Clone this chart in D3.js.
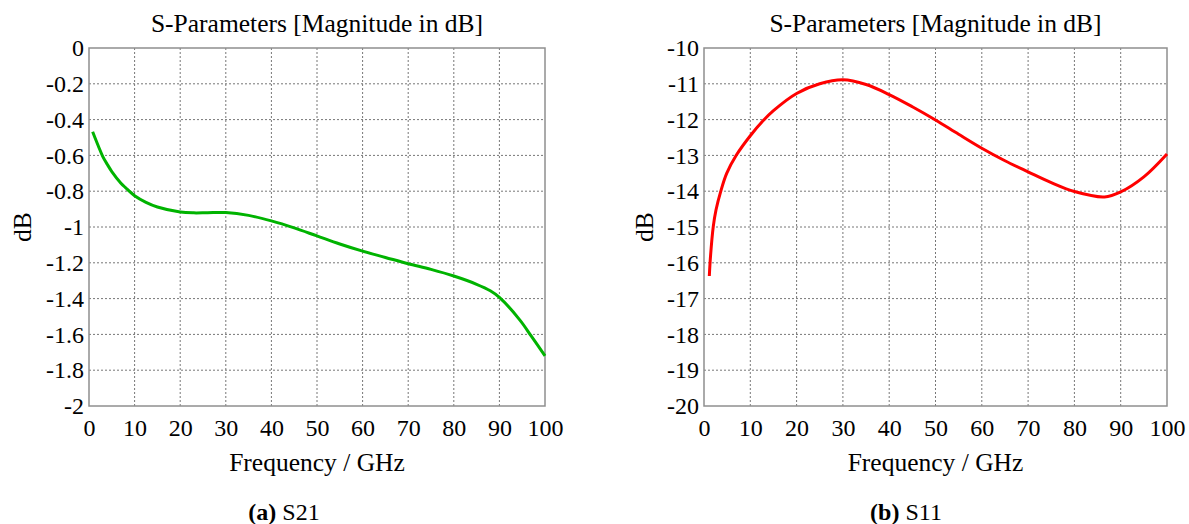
<!DOCTYPE html>
<html>
<head>
<meta charset="utf-8">
<script src="https://cdn.jsdelivr.net/npm/d3@7"></script>
<style>
  html, body { margin: 0; padding: 0; background: #fff; }
  svg { display: block; }
  text { font-family: "Liberation Serif", "Times New Roman", serif; fill: #000; }
</style>
</head>
<body>
<svg id="chart" width="1189" height="524"></svg>
<script>
// ---- data ----
const xTicks = [0, 10, 20, 30, 40, 50, 60, 70, 80, 90, 100];
const xTickLabels = ["0", "10", "20", "30", "40", "50", "60", "70", "80", "90", "100"];

const s21YTicks = [0, -0.2, -0.4, -0.6, -0.8, -1, -1.2, -1.4, -1.6, -1.8, -2];
const s21YTickLabels = ["0", "-0.2", "-0.4", "-0.6", "-0.8", "-1", "-1.2", "-1.4", "-1.6", "-1.8", "-2"];

const s11YTicks = [-10, -11, -12, -13, -14, -15, -16, -17, -18, -19, -20];
const s11YTickLabels = ["-10", "-11", "-12", "-13", "-14", "-15", "-16", "-17", "-18", "-19", "-20"];

// S21 (GHz, dB)
const s21Freq = [0.8, 2, 3, 4, 5, 7, 8, 10, 12.5, 15, 20, 23, 26, 30, 35, 40, 45, 50, 55, 60, 65, 70, 75, 80, 85, 88, 90, 94.5, 97, 100];
const s21Vals = [-0.468, -0.545, -0.605, -0.65, -0.69, -0.755, -0.78, -0.825, -0.862, -0.888, -0.916, -0.921, -0.92, -0.919, -0.935, -0.966, -1.005, -1.05, -1.095, -1.135, -1.17, -1.205, -1.237, -1.274, -1.32, -1.356, -1.393, -1.52, -1.61, -1.72];

// S11 (GHz, dB)
const s11Freq = [1.15, 1.4, 2, 2.6, 3.6, 4.9, 7, 10, 12.7, 15, 20, 25, 30, 35, 40, 45, 50, 55, 60, 65, 70, 75, 80, 86.5, 90, 95, 100];
const s11Vals = [-16.37, -15.83, -14.99, -14.52, -14.01, -13.5, -12.99, -12.45, -12.04, -11.75, -11.27, -11.0, -10.89, -11.02, -11.3, -11.64, -12.01, -12.41, -12.8, -13.15, -13.46, -13.76, -14.01, -14.16, -14.02, -13.6, -12.96];

// ---- drawing ----
const svg = d3.select("#chart");
svg.append("rect").attr("width", 1189).attr("height", 524).attr("fill", "#fff");

function panel(opts) {
  const x = d3.scaleLinear().domain([0, 100]).range([opts.x0, opts.x1]);
  const y = d3.scaleLinear().domain(opts.yDomain).range([406, 48]);
  const g = svg.append("g");

  // grid
  const grid = g.append("g").attr("class", "grid");
  grid.selectAll("line.v").data(xTicks.slice(1, -1)).join("line")
    .attr("x1", d => x(d)).attr("x2", d => x(d))
    .attr("y1", y.range()[0]).attr("y2", y.range()[1])
    .attr("stroke", "#777").attr("stroke-width", 1).attr("stroke-dasharray", "2,2");
  grid.selectAll("line.h").data(opts.yTicks.filter(d => d !== opts.yDomain[0] && d !== opts.yDomain[1])).join("line")
    .attr("x1", opts.x0).attr("x2", opts.x1)
    .attr("y1", d => y(d)).attr("y2", d => y(d))
    .attr("stroke", "#777").attr("stroke-width", 1).attr("stroke-dasharray", "2,2");

  // frame
  g.append("rect")
    .attr("x", opts.x0).attr("y", 48)
    .attr("width", opts.x1 - opts.x0).attr("height", 406 - 48)
    .attr("fill", "none").attr("stroke", "#8f8f8f").attr("stroke-width", 1.5);

  // x axis labels
  const xa = d3.axisBottom(x).tickValues(xTicks).tickSize(0).tickPadding(13)
    .tickFormat((d, i) => xTickLabels[i]);
  const gx = g.append("g").attr("transform", "translate(0,406)").call(xa);
  gx.attr("font-family", null).attr("font-size", null);
  gx.select(".domain").remove();
  gx.selectAll("text").style("font-size", "24px").attr("fill", "#000");

  // y axis labels
  const ya = d3.axisLeft(y).tickValues(opts.yTicks).tickSize(0).tickPadding(5)
    .tickFormat((d, i) => opts.yTickLabels[i]);
  const gy = g.append("g").attr("transform", `translate(${opts.x0},0)`).call(ya);
  gy.attr("font-family", null).attr("font-size", null);
  gy.select(".domain").remove();
  gy.selectAll("text").style("font-size", "24px").attr("fill", "#000");

  // curve
  const line = d3.line().x(d => x(d[0])).y(d => y(d[1])).curve(d3.curveCatmullRom.alpha(0.5));
  g.append("path")
    .datum(opts.freq.map((f, i) => [f, opts.vals[i]]))
    .attr("d", line)
    .attr("fill", "none").attr("stroke", opts.color).attr("stroke-width", 3)
    .attr("stroke-linejoin", "round");

  const cx = (opts.x0 + opts.x1) / 2;
  // title
  g.append("text").attr("x", cx).attr("y", 32).attr("text-anchor", "middle")
    .style("font-size", "25.5px").text("S-Parameters [Magnitude in dB]");
  // x label
  g.append("text").attr("x", cx).attr("y", 471).attr("text-anchor", "middle")
    .style("font-size", "25.5px").text("Frequency / GHz");
  // y label
  g.append("text").attr("transform", `translate(${opts.yLabelX},227) rotate(-90)`)
    .attr("text-anchor", "middle").attr("dy", "0.35em")
    .style("font-size", "25.5px").text("dB");
  // caption
  const cap = g.append("text").attr("x", opts.capX).attr("y", 520).attr("text-anchor", "middle")
    .style("font-size", "24px");
  cap.append("tspan").style("font-weight", "bold").text(opts.capA);
  cap.append("tspan").text(" " + opts.capB);
}

panel({
  x0: 89, x1: 545, yDomain: [-2, 0], yTicks: s21YTicks, yTickLabels: s21YTickLabels,
  freq: s21Freq, vals: s21Vals, color: "#00b300", yLabelX: 22, capX: 284, capA: "(a)", capB: "S21"
});
panel({
  x0: 704, x1: 1167, yDomain: [-20, -10], yTicks: s11YTicks, yTickLabels: s11YTickLabels,
  freq: s11Freq, vals: s11Vals, color: "#ff0000", yLabelX: 644, capX: 906, capA: "(b)", capB: "S11"
});
</script>
</body>
</html>
